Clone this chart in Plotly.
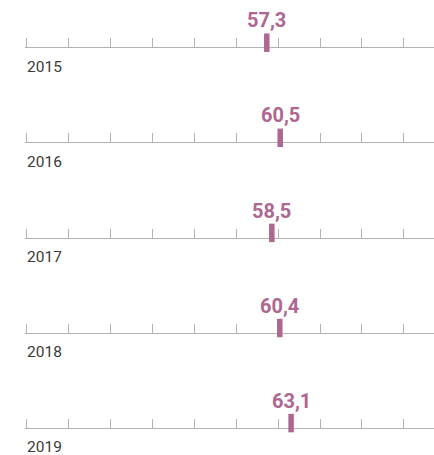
import plotly.graph_objects as go

years = ["2015", "2016", "2017", "2018", "2019"]
values = [57.3, 60.5, 58.5, 60.4, 63.1]
labels = ["57,3", "60,5", "58,5", "60,4", "63,1"]
tick_values = [0, 10, 20, 30, 40, 50, 60, 70, 80, 90]

W, H = 434, 455
line_px = [47.3, 142.4, 237.5, 332.6, 427.7]
PURPLE = "#ad6790"
GRAY = "#b3b3b3"
BELOW, ABOVE = 27, 40

fig = go.Figure()
layout = dict(
    width=W, height=H,
    margin=dict(l=25, r=0, t=0, b=0, autoexpand=False),
    paper_bgcolor="white", plot_bgcolor="white",
    showlegend=False,
)
annotations = []
for i, (yr, v, lab) in enumerate(zip(years, values, labels)):
    n = "" if i == 0 else str(i + 1)
    xa, ya = "x" + n, "y" + n
    L = line_px[i]
    bottom = 1 - (L + BELOW) / H
    top = 1 - (L - ABOVE) / H
    layout["xaxis" + n] = dict(
        domain=[0, 1], anchor="free", position=1 - L / H,
        range=[-0.4, 97.2], layer="below traces",
        tickvals=tick_values, ticks="inside", ticklen=9, tickwidth=1,
        tickcolor=GRAY, showline=True, linecolor=GRAY, linewidth=1,
        showticklabels=False, showgrid=False, zeroline=False, fixedrange=True,
    )
    layout["yaxis" + n] = dict(
        domain=[max(bottom, 0), min(top, 1)], anchor=xa,
        range=[-BELOW, ABOVE], visible=False,
        showgrid=False, zeroline=False, fixedrange=True,
    )
    fig.add_trace(go.Scatter(
        x=[v], y=[4.6], xaxis=xa, yaxis=ya, mode="markers",
        marker=dict(symbol="line-ns", size=13.2,
                    line=dict(width=5.5, color=PURPLE)),
        cliponaxis=False, hoverinfo="skip",
    ))
    annotations.append(dict(
        x=v, y=13, xref=xa, yref=ya, text="<b>" + lab + "</b>",
        showarrow=False, xanchor="center", yanchor="bottom",
        font=dict(family="Roboto", size=20, color=PURPLE),
    ))
    annotations.append(dict(
        x=0, y=-19.5, xref=xa, yref=ya, text=yr,
        showarrow=False, xanchor="left", yanchor="middle", xshift=-2,
        font=dict(family="Roboto", size=15.5, color="#3a3a3a"),
    ))
layout["annotations"] = annotations
fig.update_layout(**layout)
fig.write_html("out.html", config={"displayModeBar": False},
               post_script="document.body.style.margin='0';")
